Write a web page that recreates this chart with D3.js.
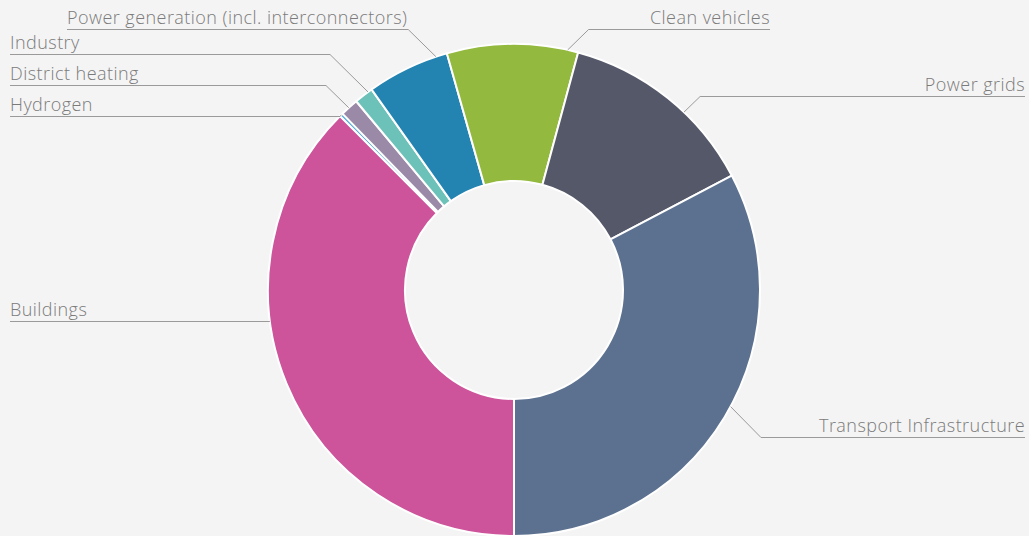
<!DOCTYPE html>
<html>
<head>
<meta charset="utf-8">
<script src="https://cdn.jsdelivr.net/npm/d3@7/dist/d3.min.js"></script>
<style>
  html, body { margin: 0; padding: 0; background: #f4f4f4; }
  svg { display: block; }
  text { font-family: "Open Sans", Roboto, sans-serif; font-weight: 300; }
</style>
</head>
<body>
<svg id="chart" width="1029" height="536"></svg>
<script>
// ---- data (share of investment, %) ----
const categories = [
  "Buildings",
  "Hydrogen",
  "District heating",
  "Industry",
  "Power generation (incl. interconnectors)",
  "Clean vehicles",
  "Power grids",
  "Transport Infrastructure"
];
const values = [37.5, 0.22, 1.2, 1.25, 5.43, 8.6, 13.1, 32.7];
const colors = ["#cd539b", "#4ea6dc", "#9b89a8", "#6cc1b8", "#2383b1", "#93b93e", "#555869", "#5c7190"];

// ---- label layout (annotation placement, not data) ----
const labelSide   = ["left", "left", "left", "left", "left", "right", "right", "right"];
const labelX      = [10, 10, 10, 10, 67, 770, 1025, 1025];
const labelY      = [321, 116, 85, 54, 29, 29, 96, 437];
const touchAngles = [262.8, 315.4, 317.8, 323.6, 341.5, 12.6, 43.7, 118.3]; // degrees, clockwise from top

const W = 1029, H = 536;
const cx = 514, cy = 290, outerR = 246, innerR = 109;

const svg = d3.select("#chart");
svg.append("rect").attr("width", W).attr("height", H).attr("fill", "#f4f4f4");

const data = categories.map((c, i) => ({ name: c, value: values[i], color: colors[i], i }));

const pie = d3.pie().value(d => d.value).sort(null)
  .startAngle(Math.PI).endAngle(Math.PI + 2 * Math.PI);
const arc = d3.arc().innerRadius(innerR).outerRadius(outerR);

const g = svg.append("g").attr("transform", `translate(${cx},${cy})`);
g.selectAll("path.slice")
  .data(pie(data))
  .join("path")
  .attr("class", "slice")
  .attr("d", arc)
  .attr("fill", d => d.data.color)
  .attr("stroke", "#ffffff")
  .attr("stroke-width", 2)
  .attr("stroke-linejoin", "round");

// ---- labels with connectors ----
const lg = svg.append("g");
data.forEach((d, i) => {
  const a = touchAngles[i] * Math.PI / 180;
  const tx = cx + outerR * Math.sin(a);
  const ty = cy - outerR * Math.cos(a);
  const ly = labelY[i];
  const sign = labelSide[i] === "left" ? -1 : 1;
  const ex = tx + sign * Math.abs(ly - ty);

  lg.append("text")
    .attr("x", labelX[i])
    .attr("y", ly - 5)
    .attr("text-anchor", labelSide[i] === "left" ? "start" : "end")
    .attr("font-size", 18)
    .attr("letter-spacing", 0.45)
    .attr("fill", "#7b7b7b")
    .text(d.name);

  const farX = labelX[i];
  lg.append("path")
    .attr("d", `M${farX},${ly + 0.5}L${ex},${ly + 0.5}L${tx},${ty}`)
    .attr("fill", "none")
    .attr("stroke", "#9a9a9a")
    .attr("stroke-width", 1);
});
</script>
</body>
</html>
